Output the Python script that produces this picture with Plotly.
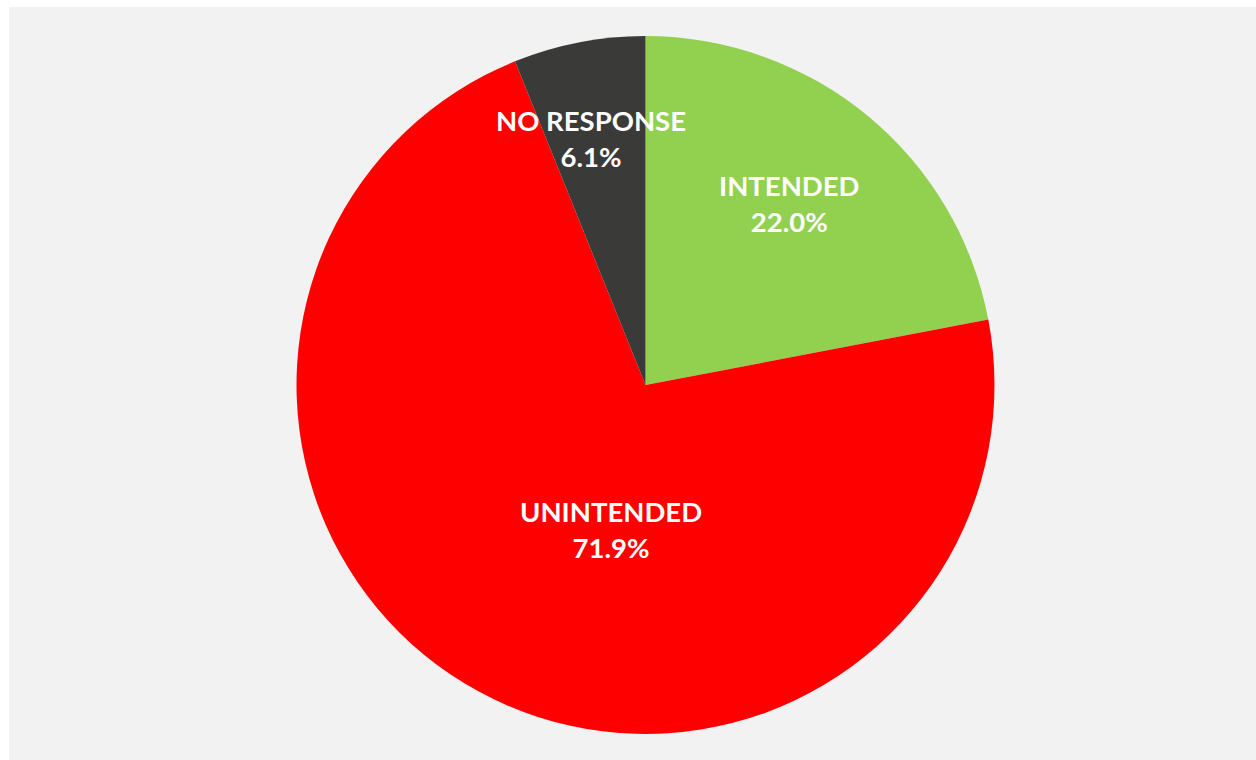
import plotly.graph_objects as go

W, H = 1256, 760

# Survey response shares (percent)
labels = ["INTENDED", "UNINTENDED", "NO RESPONSE"]
values = [22.0, 71.9, 6.1]
colors = ["#92D050", "#FF0000", "#3A3B38"]

# Label anchor points in pixels (x, y from top)
label_pos = [(789, 203), (611, 529), (591, 139)]

fig = go.Figure(
    go.Pie(
        labels=labels,
        values=values,
        sort=False,
        direction="clockwise",
        rotation=0,
        marker=dict(colors=colors, line=dict(width=0)),
        textinfo="none",
        hoverinfo="label+percent",
        showlegend=False,
        domain=dict(x=[296.5 / W, 994.5 / W], y=[26 / H, 724 / H]),
    )
)

annotations = []
for lab, val, (px, py) in zip(labels, values, label_pos):
    annotations.append(
        dict(
            text=f"{lab}<br>{val:.1f}%",
            x=px / W,
            y=1 - py / H,
            xref="paper",
            yref="paper",
            xanchor="center",
            yanchor="middle",
            showarrow=False,
            align="center",
            font=dict(family="Lato", size=27.5, color="white", weight="bold"),
        )
    )

fig.update_layout(
    width=W,
    height=H,
    margin=dict(l=0, r=0, t=0, b=0),
    paper_bgcolor="white",
    plot_bgcolor="white",
    shapes=[
        dict(
            type="rect",
            xref="paper",
            yref="paper",
            x0=9 / W,
            x1=1,
            y0=0,
            y1=1 - 7 / H,
            fillcolor="#F2F2F2",
            line=dict(width=0),
            layer="below",
        )
    ],
    annotations=annotations,
)

fig.write_html("out.html")
